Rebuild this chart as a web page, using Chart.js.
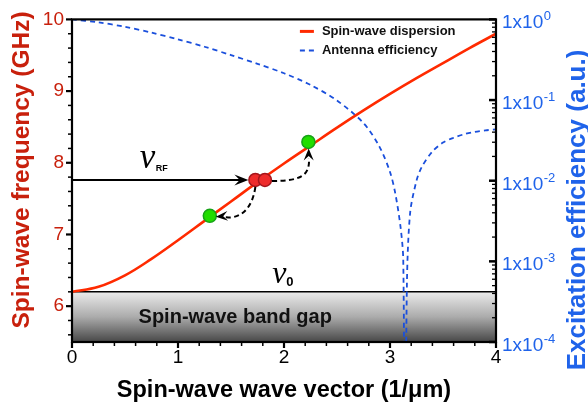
<!DOCTYPE html>
<html><head><meta charset="utf-8">
<script src="https://cdn.jsdelivr.net/npm/chart.js@4/dist/chart.umd.min.js"></script>
<style>html,body{margin:0;padding:0;background:#fff}</style>
</head><body>
<canvas id="c" width="588" height="410"></canvas>
<script>
// ---- data ----
const waveVector   = [0, 0.25, 0.5, 0.75, 1.0, 1.25, 1.5, 1.75, 2.0, 2.25, 2.5, 2.75, 3.0, 3.25, 3.5, 3.75, 4.0];
const frequencyGHz = [6.20, 6.27, 6.43, 6.66, 6.92, 7.19, 7.46, 7.73, 7.99, 8.24, 8.49, 8.73, 8.96, 9.18, 9.39, 9.60, 9.80];
const effWaveVector = [0, 0.25, 0.5, 0.75, 1.0, 1.25, 1.5, 1.75, 2.0, 2.25, 2.5, 2.75, 2.9, 3.0, 3.05, 3.1, 3.125, 3.1416, 3.16, 3.19, 3.25, 3.3, 3.4, 3.5, 3.6, 3.7, 3.8, 3.9, 4.0];
const antennaEfficiency = [1, 0.92, 0.81, 0.686, 0.565, 0.458, 0.361, 0.281, 0.215, 0.154, 0.0986, 0.0519, 0.0265, 0.01285, 0.00695, 0.00263, 0.00105, 1e-6, 0.00056, 0.004, 0.01, 0.0148, 0.023, 0.0297, 0.0341, 0.0377, 0.0404, 0.0421, 0.0433];
const excitedK = [1.73, 1.82];
const excitedF = [7.76, 7.76];
const scatteredK = [1.30, 2.23];
const scatteredF = [7.26, 8.29];
const nuRF = 7.76;
const bandGapTop = 6.2;
const xTicks = [0, 1, 2, 3, 4];
const xTickLabels = ['0', '1', '2', '3', '4'];
const yTicks = [6, 7, 8, 9, 10];
const yTickLabels = ['6', '7', '8', '9', '10'];
const effTicks = [1e-4, 1e-3, 1e-2, 1e-1, 1];
const effTickExp = ['-4', '-3', '-2', '-1', '0'];
const seriesNames = ['Spin-wave dispersion', 'Antenna efficiency'];

// ---- styles ----
const RED_LINE = '#ff2a00', RED_TXT = '#c8200c', BLUE_LINE = '#1a4fdc', BLUE_TXT = '#1f63ea';
const SANS = 'Arial, "Liberation Sans", Helvetica, sans-serif';

function arrowHead(ctx, tx, ty, ang, L, W) {
  ctx.save(); ctx.translate(tx, ty); ctx.rotate(ang);
  ctx.beginPath(); ctx.moveTo(0, 0); ctx.lineTo(-L, -W); ctx.lineTo(-L * 0.62, 0); ctx.lineTo(-L, W); ctx.closePath();
  ctx.fill(); ctx.restore();
}

const deco = {
  id: 'deco',
  beforeDatasetsDraw(chart) {
    const {ctx, chartArea: a, scales: {x, y}} = chart;
    const yg = y.getPixelForValue(bandGapTop);
    ctx.save();
    const g = ctx.createLinearGradient(0, yg, 0, a.bottom);
    g.addColorStop(0, '#ebebeb'); g.addColorStop(0.5, '#ababab'); g.addColorStop(1, '#474747');
    ctx.fillStyle = g;
    ctx.fillRect(a.left, yg, a.right - a.left, a.bottom - yg);
    ctx.strokeStyle = '#000'; ctx.lineWidth = 1.5;
    ctx.beginPath(); ctx.moveTo(a.left, yg); ctx.lineTo(a.right, yg); ctx.stroke();
    ctx.fillStyle = '#111'; ctx.font = 'bold 20px ' + SANS; ctx.textAlign = 'center'; ctx.textBaseline = 'middle';
    ctx.fillText('Spin-wave band gap', x.getPixelForValue(1.54), (yg + a.bottom) / 2 + 1);
    ctx.fillStyle = '#000';
    ctx.font = 'italic 32px "Liberation Serif", "Times New Roman", serif'; ctx.textAlign = 'left'; ctx.textBaseline = 'alphabetic';
    const nx = x.getPixelForValue(1.89);
    ctx.fillText('ν', nx, yg - 9);
    ctx.font = 'bold 13px ' + SANS;
    ctx.fillText('0', nx + 14, yg - 6);
    ctx.restore();
  },
  afterDatasetsDraw(chart) {
    const {ctx, chartArea: a, scales: {x, y}} = chart;
    ctx.save();
    const r1x = x.getPixelForValue(excitedK[0]), r1y = y.getPixelForValue(excitedF[0]);
    const r2x = x.getPixelForValue(excitedK[1]), r2y = y.getPixelForValue(excitedF[1]);
    const g1x = x.getPixelForValue(scatteredK[0]), g1y = y.getPixelForValue(scatteredF[0]);
    const g2x = x.getPixelForValue(scatteredK[1]), g2y = y.getPixelForValue(scatteredF[1]);
    const ry = y.getPixelForValue(nuRF);
    ctx.strokeStyle = '#000'; ctx.fillStyle = '#000'; ctx.lineWidth = 2;
    ctx.beginPath(); ctx.moveTo(a.left, ry); ctx.lineTo(r1x - 14, ry); ctx.stroke();
    arrowHead(ctx, r1x - 7, ry, 0, 14, 5.5);
    ctx.font = 'italic 35px "Liberation Serif", "Times New Roman", serif'; ctx.textBaseline = 'alphabetic'; ctx.textAlign = 'left';
    const lx = x.getPixelForValue(0.64);
    ctx.fillText('ν', lx, ry - 12);
    ctx.font = 'bold 9px ' + SANS;
    ctx.fillText('RF', lx + 16, ry - 9);
    ctx.lineWidth = 2; ctx.setLineDash([5, 3.5]);
    ctx.beginPath();
    ctx.moveTo(r1x, r1y + 7);
    ctx.bezierCurveTo(r1x - 3, r1y + 28, r1x - 14, g1y + 3, g1x + 16, g1y + 1.5);
    ctx.stroke();
    ctx.beginPath();
    ctx.moveTo(r2x + 7, r2y + 1);
    ctx.bezierCurveTo(r2x + 35, r2y + 1, g2x + 2, r2y - 4, g2x + 0.5, g2y + 16);
    ctx.stroke();
    ctx.setLineDash([]);
    arrowHead(ctx, g1x + 6, g1y + 1, Math.PI - 0.08, 12, 5);
    arrowHead(ctx, g2x + 0.3, g2y + 6.5, -Math.PI / 2, 12, 5);
    ctx.restore();
  },
  afterDraw(chart) {
    const {ctx, chartArea: a, scales: {x, y, y2}} = chart;
    ctx.save();
    ctx.strokeStyle = '#000';
    ctx.lineWidth = 2.2;
    ctx.strokeRect(a.left, a.top, a.right - a.left, a.bottom - a.top);
    for (let i = 0; i <= 22; i++) {
      const v = 5.6 + i * 0.2; if (v > 10.001) break;
      const major = Math.abs(v - Math.round(v)) < 1e-6;
      const p = y.getPixelForValue(v);
      ctx.lineWidth = major ? 2.2 : 1.5;
      ctx.beginPath(); ctx.moveTo(a.left, p); ctx.lineTo(a.left - (major ? 6 : 4), p); ctx.stroke();
    }
    for (let i = 0; i <= 20; i++) {
      const v = i * 0.2;
      const major = i % 5 === 0;
      const p = x.getPixelForValue(v);
      ctx.lineWidth = major ? 2.2 : 1.5;
      ctx.beginPath(); ctx.moveTo(p, a.bottom); ctx.lineTo(p, a.bottom + (major ? 6 : 4)); ctx.stroke();
    }
    for (let d = -4; d <= 0; d++) {
      for (let m = 1; m <= 9; m++) {
        const v = m * Math.pow(10, d); if (v > 1.0001) break;
        const p = y2.getPixelForValue(v);
        ctx.lineWidth = m === 1 ? 2.5 : 1.3;
        ctx.beginPath(); ctx.moveTo(a.right, p); ctx.lineTo(a.right - (m === 1 ? 7 : 4), p); ctx.stroke();
      }
    }
    ctx.fillStyle = BLUE_TXT; ctx.textAlign = 'left'; ctx.textBaseline = 'alphabetic';
    effTicks.forEach((v, i) => {
      const p = y2.getPixelForValue(v);
      ctx.font = '19px ' + SANS;
      const base = '1x10';
      ctx.fillText(base, a.right + 6, p + 9);
      const w = ctx.measureText(base).width;
      ctx.font = '13px ' + SANS;
      ctx.fillText(effTickExp[i], a.right + 6 + w + 0.5, p + 1);
    });
    // axis titles (left & right, rotated bottom-to-top)
    ctx.textAlign = 'center'; ctx.textBaseline = 'middle';
    ctx.save();
    ctx.translate(578, 210); ctx.rotate(-Math.PI / 2);
    ctx.font = 'bold 26px ' + SANS; ctx.fillStyle = BLUE_TXT;
    ctx.fillText('Excitation efficiency (a.u.)', 0, 0);
    ctx.restore();
    ctx.save();
    ctx.translate(22, 170); ctx.rotate(-Math.PI / 2);
    ctx.font = 'bold 24.5px ' + SANS; ctx.fillStyle = RED_TXT;
    ctx.fillText('Spin-wave frequency (GHz)', 0, 0);
    ctx.restore();
    // legend
    ctx.textAlign = 'left';
    const lx = x.getPixelForValue(2.15), ly1 = a.top + 12, ly2 = a.top + 31;
    ctx.strokeStyle = RED_LINE; ctx.lineWidth = 3;
    ctx.beginPath(); ctx.moveTo(lx, ly1); ctx.lineTo(lx + 14, ly1); ctx.stroke();
    ctx.strokeStyle = BLUE_LINE; ctx.lineWidth = 2; ctx.setLineDash([5, 4]);
    ctx.beginPath(); ctx.moveTo(lx, ly2); ctx.lineTo(lx + 14, ly2); ctx.stroke();
    ctx.setLineDash([]);
    ctx.fillStyle = '#111'; ctx.font = 'bold 13px ' + SANS;
    ctx.fillText(seriesNames[0], lx + 22, ly1);
    ctx.fillText(seriesNames[1], lx + 22, ly2);
    ctx.restore();
  }
};

const toXY = (xs, ys) => xs.map((k, i) => ({x: k, y: ys[i]}));

new Chart(document.getElementById('c'), {
  type: 'line',
  data: {
    datasets: [
      {label: seriesNames[0], data: toXY(waveVector, frequencyGHz), yAxisID: 'y', borderColor: RED_LINE, borderWidth: 2.6,
       pointRadius: 0, tension: 0.4, order: 3},
      {label: seriesNames[1], data: toXY(effWaveVector, antennaEfficiency), yAxisID: 'y2', borderColor: BLUE_LINE, borderWidth: 1.8,
       borderDash: [5, 4], pointRadius: 0, tension: 0.3, order: 4},
      {label: 'scattered', data: toXY(scatteredK, scatteredF), yAxisID: 'y', showLine: false, pointRadius: 6.5,
       pointBackgroundColor: '#22dd00', pointBorderColor: '#17a317', pointBorderWidth: 1.5, order: 1},
      {label: 'excited', data: toXY(excitedK, excitedF), yAxisID: 'y', showLine: false, pointRadius: 6.5,
       pointBackgroundColor: '#ee2b2b', pointBorderColor: '#a5161c', pointBorderWidth: 1.5, order: 0}
    ]
  },
  options: {
    responsive: false, animation: false, devicePixelRatio: 1,
    layout: {padding: {top: 12, left: 0, right: 0, bottom: 0}},
    plugins: {legend: {display: false}, tooltip: {enabled: false}},
    scales: {
      x: {type: 'linear', min: 0, max: 4,
          afterBuildTicks: s => { s.ticks = xTicks.map(v => ({value: v})); },
          afterFit: s => { s.height = 68; },
          grid: {display: false, drawTicks: false}, border: {display: false},
          ticks: {color: '#000', font: {family: SANS, size: 19}, padding: 4, maxRotation: 0,
                  callback: (v, i) => xTickLabels[i]},
          title: {display: true, text: 'Spin-wave wave vector (1/μm)', color: '#000',
                  font: {family: SANS, size: 23.5, weight: 'bold'}, padding: {top: 0, bottom: 5}}},
      y: {type: 'linear', position: 'left', min: 5.5, max: 10,
          afterBuildTicks: s => { s.ticks = yTicks.map(v => ({value: v})); },
          afterFit: s => { s.width = 72; },
          grid: {display: false, drawTicks: false}, border: {display: false},
          ticks: {color: RED_TXT, font: {family: SANS, size: 19}, padding: 8,
                  callback: (v, i) => yTickLabels[i]},
          title: {display: false}},
      y2: {type: 'logarithmic', position: 'right', min: 1e-4, max: 1,
           afterBuildTicks: s => { s.ticks = effTicks.map(v => ({value: v})); },
           afterFit: s => { s.width = 92; },
           grid: {display: false, drawTicks: false}, border: {display: false},
           ticks: {display: false}}
    }
  },
  plugins: [deco]
});
</script>
</body></html>
